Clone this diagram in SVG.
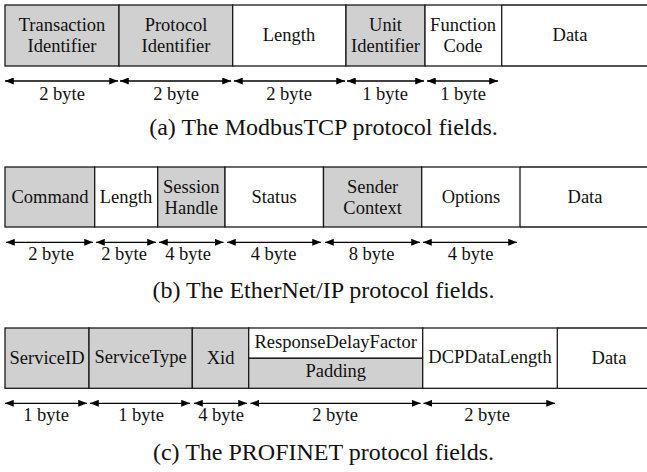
<svg xmlns="http://www.w3.org/2000/svg" width="647" height="472" viewBox="0 0 647 472">
<defs>
<marker id="ah" viewBox="0 0 10 8" refX="10" refY="4" markerWidth="9" markerHeight="7" markerUnits="userSpaceOnUse" orient="auto-start-reverse">
<path d="M0,0 L10,4 L0,8 Z" fill="#000"/>
</marker>
<style>
text{font-family:"Liberation Serif","Times New Roman",serif;font-size:18.5px;fill:#111;text-anchor:middle}
.cap{font-size:24px}
.g{fill:#d0d0d0;stroke:#1a1a1a;stroke-width:1.3}
.w{fill:#fff;stroke:#1a1a1a;stroke-width:1.3}
.ln{stroke:#1a1a1a;stroke-width:1.3;fill:none}
.ar{stroke:#000;stroke-width:1.3;marker-start:url(#ah);marker-end:url(#ah)}
</style>
</defs>
<rect width="647" height="472" fill="#fff"/>

<!-- Panel (a) -->
<g id="a-transaction"><rect class="g" x="5" y="5" width="114" height="61"/><text x="62" y="31">Transaction</text><text x="62" y="52">Identifier</text></g>
<g id="a-protocol"><rect class="g" x="119" y="5" width="113.7" height="61"/><text x="176" y="31">Protocol</text><text x="176" y="52">Identifier</text></g>
<g id="a-length"><rect class="w" x="232.7" y="5" width="113.3" height="61"/><text x="289" y="41">Length</text></g>
<g id="a-unit"><rect class="g" x="346" y="5" width="79" height="61"/><text x="385.5" y="31">Unit</text><text x="385.5" y="52">Identifier</text></g>
<g id="a-function"><rect class="w" x="425" y="5" width="76.7" height="61"/><text x="463" y="31">Function</text><text x="463" y="52">Code</text></g>
<g id="a-data"><path class="ln" d="M501.7,5 H647 M501.7,66 H647"/><text x="570" y="41">Data</text></g>

<!-- Panel (b) -->
<g id="b-command"><rect class="g" x="5" y="167" width="89.7" height="60"/><text x="50" y="203">Command</text></g>
<g id="b-length"><rect class="w" x="94.7" y="167" width="63" height="60"/><text x="126" y="203">Length</text></g>
<g id="b-session"><rect class="g" x="157.7" y="167" width="67.3" height="60"/><text x="191.3" y="193">Session</text><text x="191.3" y="214">Handle</text></g>
<g id="b-status"><rect class="w" x="225" y="167" width="98.5" height="60"/><text x="274" y="203">Status</text></g>
<g id="b-sender"><rect class="g" x="323.5" y="167" width="98.2" height="60"/><text x="372.6" y="193">Sender</text><text x="372.6" y="214">Context</text></g>
<g id="b-options"><rect class="w" x="421.7" y="167" width="98.3" height="60"/><text x="471" y="203">Options</text></g>
<g id="b-data"><path class="ln" d="M520,167 H647 M520,227 H647"/><text x="585" y="203">Data</text></g>

<!-- Panel (c) -->
<g id="c-serviceid"><rect class="g" x="5" y="328" width="84" height="60.3"/><text x="47" y="364">ServiceID</text></g>
<g id="c-servicetype"><rect class="g" x="89" y="328" width="103.3" height="60.3"/><text x="140.6" y="363">ServiceType</text></g>
<g id="c-xid"><rect class="g" x="192.3" y="328" width="56.4" height="60.3"/><text x="220.5" y="364">Xid</text></g>
<g id="c-response"><rect class="w" x="248.7" y="328" width="174" height="30.3"/><text x="335.7" y="348">ResponseDelayFactor</text></g>
<g id="c-padding"><rect class="g" x="248.7" y="358.3" width="174" height="30"/><text x="335.7" y="377">Padding</text></g>
<g id="c-dcp"><rect class="w" x="422.7" y="328" width="134.6" height="60.3"/><text x="490" y="363">DCPDataLength</text></g>
<g id="c-data"><path class="ln" d="M557.3,328 H647 M557.3,388.3 H647"/><text x="609" y="364">Data</text></g>

<!-- connectors (size arrows) -->
<g id="connectors">
<line class="ar" x1="5" y1="81" x2="118" y2="81"/>
<line class="ar" x1="120" y1="81" x2="231" y2="81"/>
<line class="ar" x1="234" y1="81" x2="345" y2="81"/>
<line class="ar" x1="347" y1="81" x2="424" y2="81"/>
<line class="ar" x1="427" y1="81" x2="498" y2="81"/>

<line class="ar" x1="6" y1="242.3" x2="93" y2="242.3"/>
<line class="ar" x1="96" y1="242.3" x2="156" y2="242.3"/>
<line class="ar" x1="159" y1="242.3" x2="223.5" y2="242.3"/>
<line class="ar" x1="227" y1="242.3" x2="321" y2="242.3"/>
<line class="ar" x1="325" y1="242.3" x2="420" y2="242.3"/>
<line class="ar" x1="423" y1="242.3" x2="517" y2="242.3"/>

<line class="ar" x1="5" y1="403.3" x2="87" y2="403.3"/>
<line class="ar" x1="90" y1="403.3" x2="190" y2="403.3"/>
<line class="ar" x1="194" y1="403.3" x2="247" y2="403.3"/>
<line class="ar" x1="250.5" y1="403.3" x2="420.5" y2="403.3"/>
<line class="ar" x1="423.5" y1="403.3" x2="555" y2="403.3"/>
</g>

<!-- labels -->
<g id="labels">
<text x="62" y="100">2 byte</text>
<text x="176" y="100">2 byte</text>
<text x="289" y="100">2 byte</text>
<text x="385" y="100">1 byte</text>
<text x="463" y="100">1 byte</text>

<text x="51" y="260">2 byte</text>
<text x="124" y="260">2 byte</text>
<text x="188" y="260">4 byte</text>
<text x="273.5" y="260">4 byte</text>
<text x="371.5" y="260">8 byte</text>
<text x="470.5" y="260">4 byte</text>

<text x="46" y="421">1 byte</text>
<text x="141" y="421">1 byte</text>
<text x="221" y="421">4 byte</text>
<text x="335" y="421">2 byte</text>
<text x="487" y="421">2 byte</text>

<text class="cap" x="323.5" y="135">(a) The ModbusTCP protocol fields.</text>
<text class="cap" x="323.5" y="298">(b) The EtherNet/IP protocol fields.</text>
<text class="cap" x="323.5" y="460">(c) The PROFINET protocol fields.</text>
</g>
</svg>
